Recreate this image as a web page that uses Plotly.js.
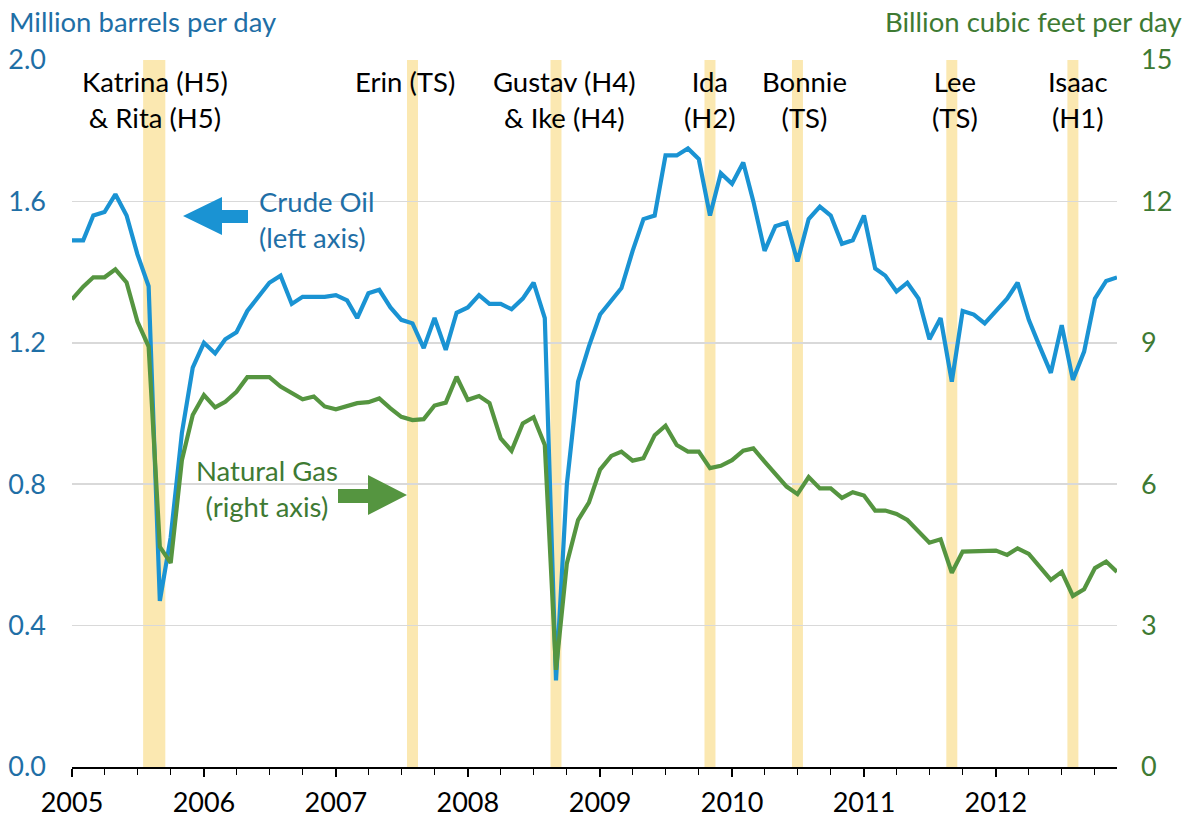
<!DOCTYPE html>
<html><head><meta charset="utf-8">
<script src="https://cdn.plot.ly/plotly-3.0.1.min.js"></script>
<style>html,body{margin:0;padding:0;background:#fff}#chart{width:1190px;height:819px}</style>
</head><body><div id="chart"></div>
<script>
// Monthly data, Jan 2005 - Dec 2012
const startYear = 2005;
const crudeOil = [1.49,1.49,1.56,1.57,1.62,1.56,1.45,1.36,0.47,0.65,0.945,1.13,
1.20,1.17,1.21,1.23,1.29,1.33,1.37,1.39,1.31,1.33,1.33,1.33,
1.335,1.32,1.27,1.34,1.35,1.30,1.265,1.255,1.185,1.27,1.18,1.285,
1.30,1.335,1.31,1.31,1.295,1.325,1.37,1.27,0.245,0.80,1.09,1.19,
1.28,1.32,1.355,1.46,1.55,1.56,1.73,1.73,1.75,1.72,1.56,1.68,
1.65,1.71,1.60,1.46,1.53,1.54,1.43,1.55,1.585,1.56,1.48,1.49,
1.56,1.41,1.39,1.345,1.37,1.325,1.21,1.27,1.09,1.29,1.28,1.255,
1.29,1.325,1.37,1.265,1.19,1.115,1.25,1.095,1.175,1.325,1.375,1.385];
const naturalGas = [9.92,10.19,10.39,10.39,10.56,10.28,9.45,8.92,4.67,4.33,6.51,7.47,
7.89,7.63,7.75,7.96,8.27,8.27,8.27,8.07,7.94,7.80,7.86,7.65,
7.59,7.65,7.72,7.74,7.82,7.61,7.43,7.36,7.38,7.67,7.73,8.28,
7.79,7.87,7.72,6.97,6.71,7.29,7.42,6.83,2.06,4.32,5.24,5.61,
6.31,6.60,6.69,6.50,6.55,7.04,7.24,6.83,6.69,6.69,6.34,6.39,
6.51,6.71,6.76,6.48,6.23,5.95,5.79,6.15,5.91,5.91,5.71,5.83,
5.76,5.44,5.44,5.37,5.24,4.99,4.76,4.83,4.12,4.57,4.57,4.58,
4.59,4.50,4.64,4.52,4.25,3.97,4.14,3.63,3.77,4.22,4.36,4.14];

const stormNames = ["Katrina (H5)<br>& Rita (H5)","Erin (TS)","Gustav (H4)<br>& Ike (H4)","Ida<br>(H2)","Bonnie<br>(TS)","Lee<br>(TS)","Isaac<br>(H1)"];
const stormStart = ["2005-08","2007-08","2008-09","2009-11","2010-07","2011-09","2012-08"];
const stormEnd   = ["2005-09","2007-08","2008-09","2009-11","2010-07","2011-09","2012-08"];
const stormLabelShift = [1,-8,8,0,7,3,5];

const leftTitle = "Million barrels per day";
const rightTitle = "Billion cubic feet per day";
const oilLabel = "Crude Oil<br>(left axis)";
const gasLabel = "Natural Gas<br>(right axis)";

// ---- helpers ----
function pad(n){return (n<10?"0":"")+n;}
const months = crudeOil.map((_,i)=> (startYear+Math.floor(i/12))+"-"+pad(i%12+1)+"-01");
function offsetDate(ym, days){
  const [y,m] = ym.split("-").map(Number);
  const d = new Date(Date.UTC(y,m-1,1) + days*86400000);
  return d.getUTCFullYear()+"-"+pad(d.getUTCMonth()+1)+"-"+pad(d.getUTCDate())+" "+pad(d.getUTCHours())+":00";
}
// plot area in pixels (for decoration placement)
const L=72, R=1117, T=60, B=767;
const px = x => (x-L)/(R-L);
const py = y => (B-y)/(B-T);

const blue = "#1A93D3", green = "#559540";
const blueText = "#1F6FA6", greenText = "#3E7A33";
const FONT = "Lato, 'Open Sans', sans-serif";
const FS = 27.5;
const TFS = 27;

const shapes = [];
stormStart.forEach((s,i)=>{
  shapes.push({type:"rect", xref:"x", yref:"y", x0:offsetDate(s,-15.2), x1:offsetDate(stormEnd[i],15.2),
    y0:0, y1:2, fillcolor:"#FBE8B1", line:{width:0}, layer:"below"});
});
// block arrows
shapes.push({type:"path", xref:"paper", yref:"paper", fillcolor:blue, line:{width:0},
  path:`M${px(183)},${py(216)} L${px(222)},${py(197)} L${px(222)},${py(210)} L${px(248)},${py(210)} L${px(248)},${py(223)} L${px(222)},${py(223)} L${px(222)},${py(235)} Z`});
shapes.push({type:"path", xref:"paper", yref:"paper", fillcolor:green, line:{width:0},
  path:`M${px(338)},${py(489)} L${px(368)},${py(489)} L${px(368)},${py(475)} L${px(407)},${py(495)} L${px(368)},${py(515)} L${px(368)},${py(503)} L${px(338)},${py(503)} Z`});

const annotations = [];
stormNames.forEach((n,i)=>{
  annotations.push({xref:"x", yref:"paper", x:offsetDate(stormStart[i], (stormStart[i]===stormEnd[i]?0:15)),
    y:py(63), yanchor:"top", xanchor:"center", xshift:stormLabelShift[i], showarrow:false,
    text:n, align:"center", font:{family:FONT, size:FS, color:"#000"}});
});
annotations.push({xref:"paper", yref:"paper", x:px(7), y:py(22), xanchor:"left", yanchor:"middle", showarrow:false,
  text:leftTitle, font:{family:FONT, size:FS, color:blueText}});
annotations.push({xref:"paper", yref:"paper", x:px(1184), y:py(22), xanchor:"right", yanchor:"middle", showarrow:false,
  text:rightTitle, font:{family:FONT, size:FS, color:greenText}});
annotations.push({xref:"paper", yref:"paper", x:px(257), y:py(219), xanchor:"left", yanchor:"middle", showarrow:false,
  text:oilLabel, align:"left", font:{family:FONT, size:FS, color:blueText}});
annotations.push({xref:"paper", yref:"paper", x:px(267), y:py(488), xanchor:"center", yanchor:"middle", showarrow:false,
  text:gasLabel, align:"center", font:{family:FONT, size:FS, color:greenText}});

const data = [
  {type:"scatter", mode:"lines", x:months, y:crudeOil, yaxis:"y", line:{color:blue, width:4.2}, name:"Crude Oil"},
  {type:"scatter", mode:"lines", x:months, y:naturalGas, yaxis:"y2", line:{color:green, width:4.2}, name:"Natural Gas"}
];

const layout = {
  width:1190, height:819,
  margin:{l:L, r:1190-R, t:T, b:819-B},
  paper_bgcolor:"#fff", plot_bgcolor:"#fff",
  showlegend:false,
  font:{family:FONT, size:FS},
  xaxis:{type:"date", range:[months[0], months[months.length-1]], tick0:"2005-01-01", dtick:"M12", tickformat:"%Y",
    ticks:"outside", ticklen:8, tickwidth:1.5, tickcolor:"#000", showline:true, linecolor:"#000", linewidth:1.5,
    showgrid:false, zeroline:false, ticklabelstandoff:3, tickfont:{family:FONT, size:TFS, color:"#000"},
    minor:{dtick:"M3", ticks:"outside", ticklen:6, tickwidth:1, tickcolor:"#000", showgrid:false}},
  yaxis:{range:[0,2], dtick:0.4, tick0:0, tickformat:".1f", showgrid:true, gridcolor:"#D9D9D9", gridwidth:1.5,
    zeroline:false, showline:false, ticks:"", ticklabelstandoff:25, tickfont:{family:FONT, size:TFS, color:blueText}},
  yaxis2:{range:[0,15], dtick:3, tick0:0, overlaying:"y", side:"right", showgrid:false, zeroline:false,
    showline:false, ticks:"", ticklabelstandoff:23, tickfont:{family:FONT, size:TFS, color:greenText}},
  shapes:shapes, annotations:annotations
};
Plotly.newPlot("chart", data, layout, {displayModeBar:false, staticPlot:true});
</script>
</body></html>
